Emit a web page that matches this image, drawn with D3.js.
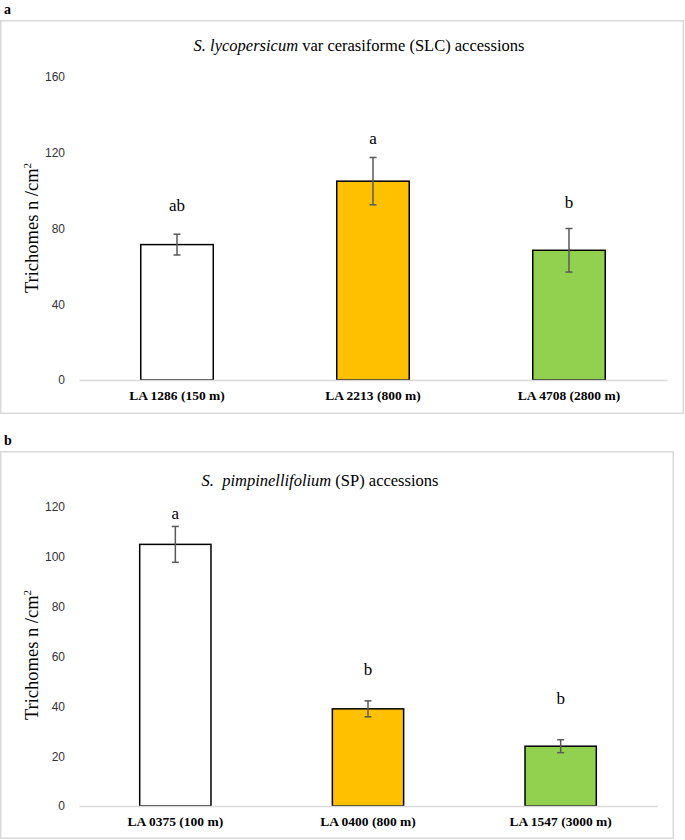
<!DOCTYPE html>
<html>
<head>
<meta charset="utf-8">
<script src="https://cdn.jsdelivr.net/npm/d3@7"></script>
<style>
  html, body { margin: 0; padding: 0; background: #fff; }
  svg { display: block; }
</style>
</head>
<body>
<svg id="chart" width="685" height="840"></svg>
<script>
// ---------- DATA ----------
const slcCategories = ["LA 1286 (150 m)", "LA 2213 (800 m)", "LA 4708 (2800 m)"];
const slcValues = [71.5, 105, 68.5];
const slcErrors = [5.5, 12.5, 11.5];
const slcLetters = ["ab", "a", "b"];
const slcLetterAt = [92.5, 127.5, 94];
const slcTicks = [0, 40, 80, 120, 160];

const spCategories = ["LA 0375 (100 m)", "LA 0400 (800 m)", "LA 1547 (3000 m)"];
const spValues = [105, 39, 24];
const spErrors = [7.2, 3.2, 2.6];
const spLetters = ["a", "b", "b"];
const spLetterAt = [117.5, 55, 43.3];
const spTicks = [0, 20, 40, 60, 80, 100, 120];

const barColors = ["#FFFFFF", "#FFC000", "#92D050"];

// ---------- DRAW ----------
const svg = d3.select("#chart");
const serif = "'Liberation Serif', 'Times New Roman', serif";
const sans = "'Liberation Sans', Arial, sans-serif";

function panel(cfg) {
  const g = svg.append("g");
  // frame
  g.append("rect")
    .attr("x", cfg.frame[0] + 0.75).attr("y", cfg.frame[1] + 0.75)
    .attr("width", cfg.frame[2] - 1.5).attr("height", cfg.frame[3] - 1.5)
    .attr("fill", "#fff").attr("stroke", "#d9d9d9").attr("stroke-width", 1.5);
  // panel letter
  g.append("text").attr("x", 4).attr("y", cfg.frame[1] - 6)
    .attr("font-family", serif).attr("font-weight", "bold").attr("font-size", 14)
    .text(cfg.panelLetter);

  const x = d3.scaleBand().domain(cfg.categories)
    .range([cfg.plot.left, cfg.plot.right])
    .paddingInner(0.63).paddingOuter(0.315);
  const y = d3.scaleLinear().domain([0, cfg.ymax])
    .range([cfg.plot.bottom, cfg.plot.top]);

  // title
  const t = g.append("text").attr("x", cfg.titleX).attr("y", cfg.titleY)
    .attr("text-anchor", "middle").attr("dy", "0.35em")
    .attr("font-family", serif).attr("font-size", 16.5).attr("fill", "#000")
    .attr("xml:space", "preserve");
  t.append("tspan").attr("font-style", "italic").text(cfg.titleItalic);
  t.append("tspan").text(cfg.titleRest);

  // y axis (labels only)
  const yAxis = d3.axisLeft(y).tickValues(cfg.ticks).tickSize(0).tickPadding(0);
  const ya = g.append("g").attr("transform", `translate(${cfg.tickRight},0)`).call(yAxis);
  ya.select(".domain").remove();
  ya.selectAll("text").attr("font-family", sans).attr("font-size", 12).attr("fill", "#333");

  // y title
  const yt = g.append("text")
    .attr("transform", `translate(${cfg.yTitleX},${cfg.yTitleY}) rotate(-90)`)
    .attr("text-anchor", "middle").attr("dy", "0.35em")
    .attr("font-family", serif).attr("font-size", 18.5).attr("fill", "#000");
  yt.append("tspan").text("Trichomes n /cm");
  yt.append("tspan").attr("font-size", 11).attr("dy", "-0.7em").text("2");

  // bars
  g.selectAll("rect.bar").data(cfg.values).enter().append("rect")
    .attr("class", "bar")
    .attr("x", (d, i) => x(cfg.categories[i]))
    .attr("y", d => y(d))
    .attr("width", x.bandwidth())
    .attr("height", d => y(0) - y(d))
    .attr("fill", (d, i) => barColors[i])
    .attr("stroke", "#000").attr("stroke-width", 1.5);

  // baseline axis
  const xAxis = d3.axisBottom(x).tickSize(0).tickPadding(10);
  const xa = g.append("g").attr("transform", `translate(0,${y(0)})`).call(xAxis);
  xa.select(".domain").attr("stroke", "#d9d9d9").attr("stroke-width", 1.3);
  xa.selectAll("text").attr("font-family", serif).attr("font-weight", "bold")
    .attr("font-size", 13.5).attr("fill", "#000");

  // error bars
  const cx = i => x(cfg.categories[i]) + x.bandwidth() / 2;
  const eg = g.append("g").attr("stroke", "#595959").attr("stroke-width", 1.5);
  cfg.values.forEach((v, i) => {
    const e = cfg.errors[i];
    eg.append("line").attr("x1", cx(i)).attr("x2", cx(i)).attr("y1", y(v - e)).attr("y2", y(v + e));
    eg.append("line").attr("x1", cx(i) - 3.5).attr("x2", cx(i) + 3.5).attr("y1", y(v + e)).attr("y2", y(v + e));
    eg.append("line").attr("x1", cx(i) - 3.5).attr("x2", cx(i) + 3.5).attr("y1", y(v - e)).attr("y2", y(v - e));
  });

  // significance letters
  g.selectAll("text.letter").data(cfg.letters).enter().append("text")
    .attr("class", "letter")
    .attr("x", (d, i) => cx(i))
    .attr("y", (d, i) => y(cfg.letterAt[i]))
    .attr("dy", "0.35em").attr("text-anchor", "middle")
    .attr("font-family", serif).attr("font-size", 17).attr("fill", "#000")
    .text(d => d);
}

panel({
  panelLetter: "a",
  frame: [0, 20, 684, 394],
  plot: { left: 79, right: 667, top: 77, bottom: 380 },
  ymax: 160, ticks: slcTicks,
  categories: slcCategories, values: slcValues, errors: slcErrors,
  letters: slcLetters, letterAt: slcLetterAt,
  titleItalic: "S. lycopersicum", titleRest: " var cerasiforme (SLC) accessions",
  titleX: 359, titleY: 45,
  tickRight: 65, yTitleX: 32, yTitleY: 228
});

panel({
  panelLetter: "b",
  frame: [0, 451, 674, 388],
  plot: { left: 79, right: 657, top: 507, bottom: 806 },
  ymax: 120, ticks: spTicks,
  categories: spCategories, values: spValues, errors: spErrors,
  letters: spLetters, letterAt: spLetterAt,
  titleItalic: "S.  pimpinellifolium", titleRest: " (SP) accessions",
  titleX: 320, titleY: 480,
  tickRight: 65, yTitleX: 32, yTitleY: 655
});
</script>
</body>
</html>
